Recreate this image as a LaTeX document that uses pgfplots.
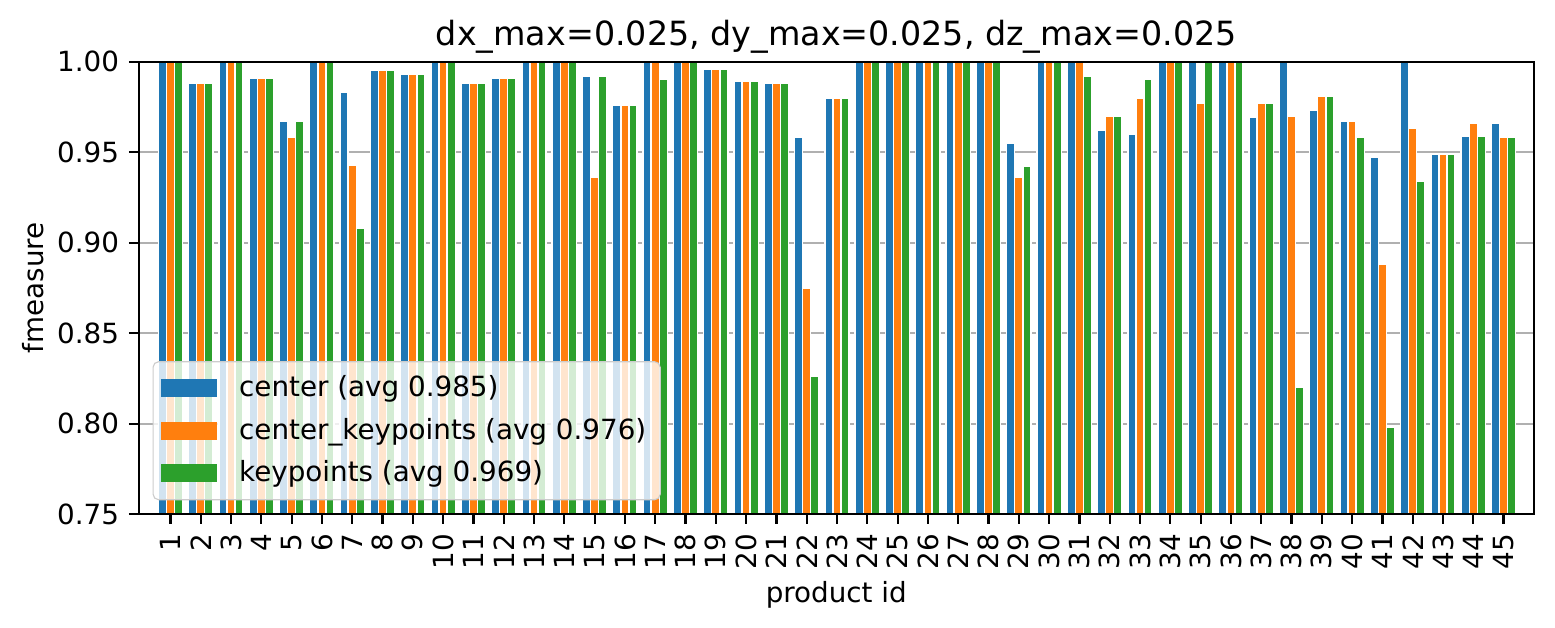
\documentclass[border=0pt]{standalone}
\usepackage{fontspec}
\setmainfont{DejaVu Sans}
\usepackage{pgfplots}
\usepackage{pgfplotstable}
\pgfplotsset{compat=1.18}
\definecolor{cA}{HTML}{1F77B4}
\definecolor{cB}{HTML}{FF7F0E}
\definecolor{cC}{HTML}{2CA02C}

% grid under the bars, axis lines over them
\pgfplotsset{
  layers/gridbelow/.define layer set={
    axis background,axis grid,pre main,main,axis ticks,axis lines,
    axis tick labels,axis descriptions,axis foreground
  }{/pgfplots/layers/standard},
}

% fmeasure per product
\pgfplotstableread{
id center ckp kp
1  1.000 1.000 1.000
2  0.988 0.988 0.988
3  1.000 1.000 1.000
4  0.991 0.991 0.991
5  0.967 0.958 0.967
6  1.000 1.000 1.000
7  0.983 0.943 0.908
8  0.995 0.995 0.995
9  0.993 0.993 0.993
10 1.000 1.000 1.000
11 0.988 0.988 0.988
12 0.991 0.991 0.991
13 1.000 1.000 1.000
14 1.000 1.000 1.000
15 0.992 0.936 0.992
16 0.976 0.976 0.976
17 1.000 1.000 0.990
18 1.000 1.000 1.000
19 0.996 0.996 0.996
20 0.989 0.989 0.989
21 0.988 0.988 0.988
22 0.958 0.875 0.826
23 0.980 0.980 0.980
24 1.000 1.000 1.000
25 1.000 1.000 1.000
26 1.000 1.000 1.000
27 1.000 1.000 1.000
28 1.000 1.000 1.000
29 0.955 0.936 0.942
30 1.000 1.000 1.000
31 1.000 1.000 0.992
32 0.962 0.970 0.970
33 0.960 0.980 0.990
34 1.000 1.000 1.000
35 1.000 0.977 1.000
36 1.000 1.000 1.000
37 0.969 0.977 0.977
38 1.000 0.970 0.820
39 0.973 0.981 0.981
40 0.967 0.967 0.958
41 0.947 0.888 0.798
42 1.000 0.963 0.934
43 0.949 0.949 0.949
44 0.959 0.966 0.959
45 0.966 0.958 0.958
}\fm

\begin{document}
\begin{tikzpicture}
\begin{axis}[
    set layers=gridbelow,
    at={(0,0)}, anchor=south west,
    scale only axis, width=502.3pt, height=162.9pt,
    ybar, bar width=0.267,
    xmin=-0.05, xmax=46, ymin=0.75, ymax=1.0,
    xtick={1,...,45},
    ytick={0.75,0.80,...,1.0},
    xtick pos=bottom, ytick pos=left,
    yticklabel style={/pgf/number format/fixed, /pgf/number format/fixed zerofill,
        /pgf/number format/precision=2},
    /pgf/number format/assume math mode=true,
    tick label style={font=\fontsize{10}{12}\selectfont},
    xticklabel style={rotate=90, anchor=east},
    tick align=outside, major tick length=3.5pt,
    tick style={black, line width=0.8pt},
    axis line style={black, line width=0.8pt},
    ymajorgrids, grid style={black!31, line width=0.8pt},
    title={dx\_max=0.025, dy\_max=0.025, dz\_max=0.025},
    title style={font=\fontsize{12}{14}\selectfont, yshift=-6.7pt},
    xlabel={product id}, ylabel={fmeasure},
    label style={font=\fontsize{10}{12}\selectfont},
    xlabel style={yshift=2.5pt},
    ylabel style={yshift=-2pt},
    legend style={at={(0,0)}, anchor=south west, xshift=5pt, yshift=5pt,
        draw=black!20, rounded corners=2pt, fill=white, fill opacity=0.8,
        text opacity=1, font=\fontsize{10}{12}\selectfont,
        row sep=2.2pt, column sep=6pt, inner sep=3pt},
    legend cell align=left,
    legend image code/.code={\fill[#1, sharp corners, draw=none, fill opacity=1] (1pt,-3.3pt) rectangle (21pt,3.3pt);},
]
\addplot[fill=cA, draw=white, line width=0.5pt, bar shift=-0.267] table[x=id, y=center] {\fm};
\addplot[fill=cB, draw=white, line width=0.5pt, bar shift=0] table[x=id, y=ckp] {\fm};
\addplot[fill=cC, draw=white, line width=0.5pt, bar shift=0.267] table[x=id, y=kp] {\fm};
\legend{center (avg 0.985), center\_keypoints (avg 0.976), keypoints (avg 0.969)}
\end{axis}
\pgfresetboundingbox
\path[use as bounding box] (-49.9pt,-40.9pt) rectangle (509.9pt,185.1pt);
\end{tikzpicture}
\end{document}
